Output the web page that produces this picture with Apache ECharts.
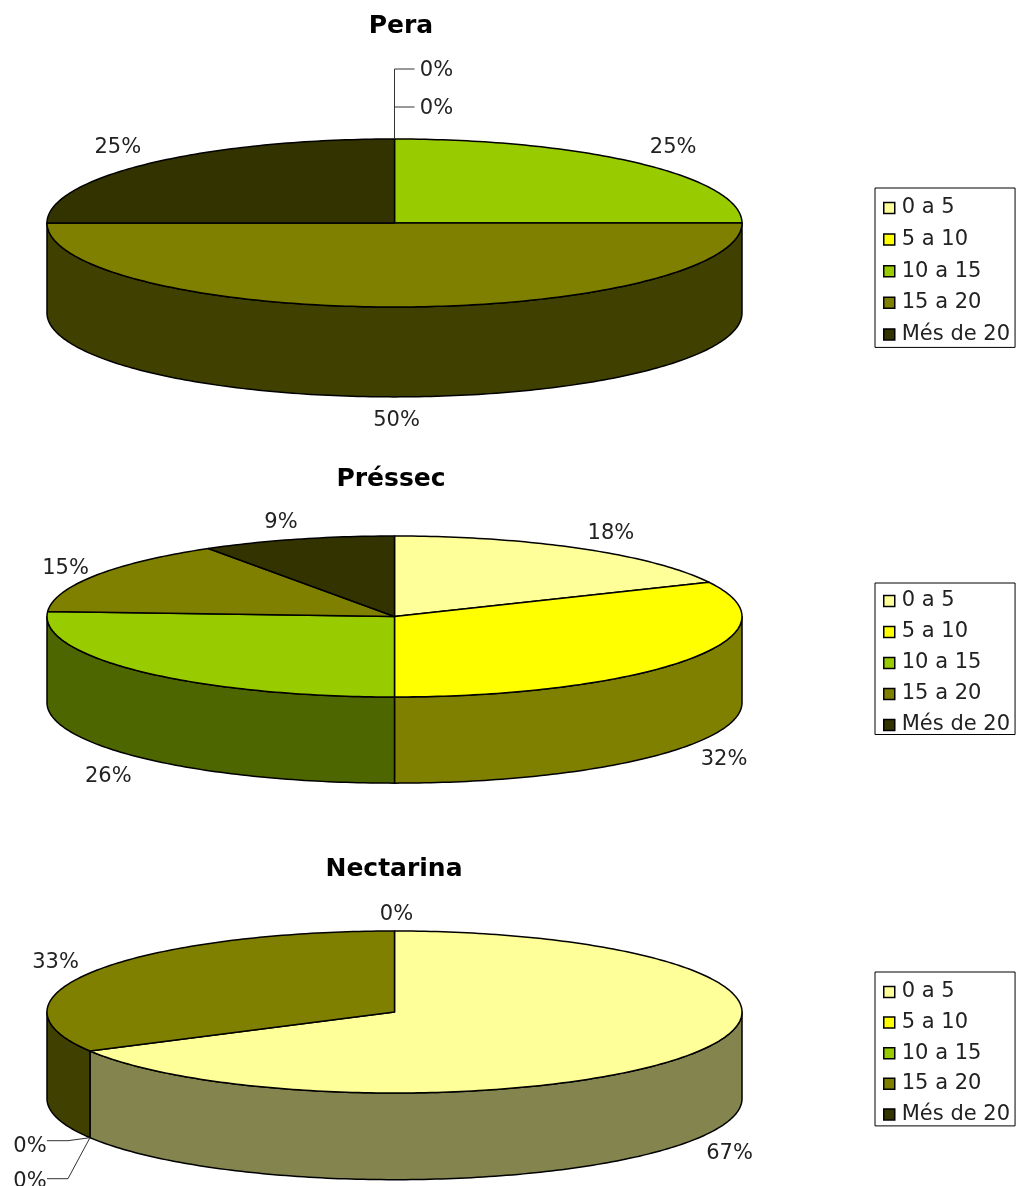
<!DOCTYPE html>
<html>
<head>
<meta charset="utf-8">
<style>html,body{margin:0;padding:0;background:#fff}#chart{width:1016px;height:1186px}</style>
<script src="https://cdn.jsdelivr.net/npm/echarts@6/dist/echarts.min.js"></script>
</head>
<body>
<div id="chart"></div>
<script>
// Size bands shown in every legend
const bands = ['0 a 5', '5 a 10', '10 a 15', '15 a 20', 'Més de 20'];
// Percentage per band for each fruit
const pera = [0, 0, 25, 50, 25];
const pressec = [18, 32, 26, 15, 9];
const nectarina = [67, 0, 0, 33, 0];
const fruitNames = ['Pera', 'Préssec', 'Nectarina'];
const fruitValues = [pera, pressec, nectarina];

const topColors = ['#FFFF99', '#FFFF00', '#99CC00', '#808000', '#333300'];
const sideColors = ['#84844E', '#808000', '#4D6600', '#404000', '#1A1A00'];

// Ellipse frame of each pie, title and legend placement
const frames = [
  { top: 139, height: 168, titleX: 401, titleY: 14, legendTop: 188, legendGap: 10.6, legendPad: [9.5, 5, 2.5, 8] },
  { top: 536, height: 161, titleX: 391, titleY: 467, legendTop: 583, legendGap: 10, legendPad: [7.5, 5, -1, 8] },
  { top: 931, height: 162, titleX: 394, titleY: 857, legendTop: 972, legendGap: 9.6, legendPad: [9.5, 5, 1, 8] }
];
const pieLeft = 47, pieWidth = 695;
const depthRatio = 1.07;          // wall height, in units of the vertical radius
const labelRadiusX = 1.13, labelRadiusY = 1.26;
const FONT = '"DejaVu Sans", Verdana, sans-serif';
const labelSize = 21;
const legendSize = 21;
const titleSize = 25;

// Fine placement of slice labels, in pixels, by fruit and band
const labelNudge = [
  { 2: [1, -1], 3: [2, 2], 4: [1, -1] },
  { 0: [6, 3], 1: [-2, 3], 2: [0, 4], 3: [9, 4], 4: [-4, 3] },
  { 0: [-3, 3], 3: [-1, 2], 4: [2, 5] }
];

// Callouts for empty slices: label centre and elbow relative to the rim point
const callouts = [
  { 0: { rim: 'top', elbow: [0, -70], end: [20, -70], label: [42, -68] },
    1: { rim: 'top', elbow: [0, -32], end: [20, -32], label: [42, -30] } },
  {},
  { 1: { rim: 'bottom', elbow: [-22, 3], end: [-43, 3], label: [-60, 9] },
    2: { rim: 'bottom', elbow: [-22, 41], end: [-43, 41], label: [-60, 44] } }
];

function rad(deg) { return deg * Math.PI / 180; }

function makeRender(chartIdx, bandIdx) {
  return function (params, api) {
    const start = api.value(0), share = api.value(1);
    const a0 = start * 3.6, a1 = (start + share) * 3.6;
    const rim = (deg, drop) => api.coord([Math.sin(rad(deg)), Math.cos(rad(deg)) - (drop ? depthRatio : 0)]);
    const children = [];
    const edge = { stroke: '#000', lineWidth: 1.5, lineJoin: 'round' };

    if (share > 0) {
      // outer wall: only the part of the slice facing the viewer
      const lo = Math.max(a0, 90), hi = Math.min(a1, 270);
      if (hi > lo) {
        const pts = [];
        for (let d = lo; d < hi; d += 1) pts.push(rim(d, false));
        pts.push(rim(hi, false), rim(hi, true));
        for (let d = hi - 1; d > lo; d -= 1) pts.push(rim(d, true));
        pts.push(rim(lo, true));
        children.push({ type: 'polygon', z2: 1, shape: { points: pts },
          style: Object.assign({ fill: sideColors[bandIdx] }, edge) });
      }
      // upper face
      const pts = [api.coord([0, 0])];
      for (let d = a0; d < a1; d += 1) pts.push(rim(d, false));
      pts.push(rim(a1, false));
      children.push({ type: 'polygon', z2: 2, shape: { points: pts },
        style: Object.assign({ fill: topColors[bandIdx] }, edge) });
    }

    const mid = (a0 + a1) / 2;
    const call = callouts[chartIdx][bandIdx];
    let lx, ly;
    if (call) {
      const p = rim(mid, call.rim === 'bottom');
      const q = [[p[0], p[1]], [p[0] + call.elbow[0], p[1] + call.elbow[1]], [p[0] + call.end[0], p[1] + call.end[1]]];
      children.push({ type: 'polyline', z2: 3, shape: { points: q },
        style: { stroke: '#333', lineWidth: 1, fill: null } });
      lx = p[0] + call.label[0]; ly = p[1] + call.label[1];
    } else {
      const c = Math.cos(rad(mid));
      const p = api.coord([Math.sin(rad(mid)) * labelRadiusX, c * labelRadiusY - (c < -0.01 ? depthRatio : 0)]);
      const n = labelNudge[chartIdx][bandIdx] || [0, 0];
      lx = p[0] + n[0]; ly = p[1] + n[1];
    }
    children.push({ type: 'text', z2: 4, x: lx, y: ly, style: {
      text: share + '%', fontSize: labelSize, fontFamily: FONT, fill: '#222',
      align: 'center', verticalAlign: 'middle' } });
    return { type: 'group', children };
  };
}

const grids = [], xAxes = [], yAxes = [], titles = [], legends = [], seriesList = [];
frames.forEach((f, i) => {
  grids.push({ left: pieLeft, width: pieWidth, top: f.top, height: f.height });
  xAxes.push({ type: 'value', gridIndex: i, min: -1, max: 1, show: false });
  yAxes.push({ type: 'value', gridIndex: i, min: -1, max: 1, show: false });
  titles.push({ text: fruitNames[i], left: f.titleX, top: f.titleY, textAlign: 'center', padding: 0,
    textStyle: { fontFamily: FONT, fontSize: titleSize, fontWeight: 'bold', color: '#000' } });
  legends.push({ data: bands, orient: 'vertical', left: 875, top: f.legendTop, selectedMode: false,
    padding: f.legendPad, itemGap: f.legendGap, itemWidth: 11, itemHeight: 11, icon: 'rect',
    borderColor: '#000', borderWidth: 1, backgroundColor: '#fff',
    itemStyle: { borderColor: '#000', borderWidth: 1.5 },
    textStyle: { fontFamily: FONT, fontSize: legendSize, color: '#222', padding: [0, 0, 0, 2] } });
  let running = 0;
  fruitValues[i].forEach((v, b) => {
    seriesList.push({
      type: 'custom', name: bands[b], xAxisIndex: i, yAxisIndex: i, silent: true,
      itemStyle: { color: topColors[b] }, renderItem: makeRender(i, b),
      data: [[running, v]]
    });
    running += v;
  });
});

const chart = echarts.init(document.getElementById('chart'), null, { renderer: 'canvas' });
chart.setOption({
  animation: false, backgroundColor: '#fff',
  grid: grids, xAxis: xAxes, yAxis: yAxes, title: titles, legend: legends, series: seriesList
});
</script>
</body>
</html>
